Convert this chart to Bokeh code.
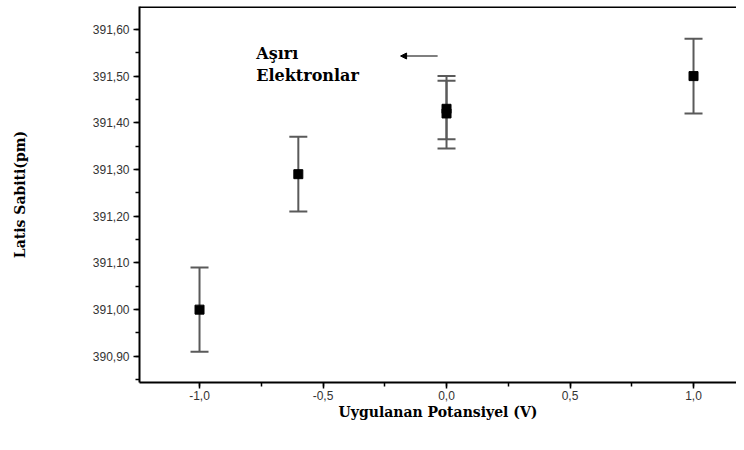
from bokeh.plotting import figure
from bokeh.models import (ColumnDataSource, Whisker, TeeHead, SingleIntervalTicker,
                          CustomJSTickFormatter, Span, Arrow, NormalHead, Label, Range1d)
from bokeh.embed import file_html
from bokeh.resources import INLINE

# data
potential = [-1.0, -0.6, 0.0, 0.0, 1.0]
lattice = [391.00, 391.29, 391.42, 391.43, 391.50]
err_up = [0.09, 0.08, 0.07, 0.07, 0.08]
err_dn = [0.09, 0.08, 0.075, 0.065, 0.08]

x_ticks_interval = 0.5
y_ticks_interval = 0.1
x_label = "Uygulanan Potansiyel (V)"
y_label = "Latis Sabiti(pm)"
note_lines = ["Aşırı", "Elektronlar"]

x_lo, x_hi = -1.243, 1.174
y_lo, y_hi = 390.844, 391.649

src = ColumnDataSource(dict(
    x=potential, y=lattice,
    upper=[v + e for v, e in zip(lattice, err_up)],
    lower=[v - e for v, e in zip(lattice, err_dn)],
))

p = figure(width=736, height=442, output_backend="svg", toolbar_location=None,
           x_range=Range1d(x_lo, x_hi), y_range=Range1d(y_lo, y_hi),
           min_border_left=139, min_border_right=0, min_border_top=6, min_border_bottom=60)
p.outline_line_color = None
p.grid.grid_line_color = None
p.background_fill_color = "white"

p.xaxis.ticker = SingleIntervalTicker(interval=x_ticks_interval, num_minor_ticks=2)
p.yaxis.ticker = SingleIntervalTicker(interval=y_ticks_interval, num_minor_ticks=2)
p.xaxis.formatter = CustomJSTickFormatter(code="return tick.toFixed(1).replace('.', ',');")
p.yaxis.formatter = CustomJSTickFormatter(code="return tick.toFixed(2).replace('.', ',');")

for ax in (p.xaxis[0], p.yaxis[0]):
    ax.axis_line_color = "black"
    ax.axis_line_width = 2
    ax.major_tick_line_color = "black"
    ax.major_tick_line_width = 1.5
    ax.minor_tick_line_color = "black"
    ax.minor_tick_line_width = 1.5
    ax.major_tick_out = 6
    ax.major_tick_in = 0
    ax.minor_tick_out = 4
    ax.minor_tick_in = 0
    ax.major_label_text_font = "Liberation Sans"
    ax.major_label_text_font_size = "12px"
    ax.major_label_text_color = "#333333"
    ax.axis_label_text_font = "DejaVu Serif"
    ax.axis_label_text_font_style = "bold"
    ax.axis_label_text_font_size = "14px"
    ax.axis_label_text_color = "black"

p.xaxis.axis_label = x_label
p.yaxis.axis_label = y_label
p.xaxis.major_label_standoff = 2
p.xaxis.axis_label_standoff = 1
p.yaxis.major_label_standoff = 4
p.yaxis.axis_label_standoff = 62

# top border line
p.add_layout(Span(location=y_hi, dimension="width", line_color="black", line_width=3))

# error bars
p.add_layout(Whisker(source=src, base="x", upper="upper", lower="lower",
                     line_color="#5a5a5a", line_width=2,
                     upper_head=TeeHead(size=18, line_color="#5a5a5a", line_width=2),
                     lower_head=TeeHead(size=18, line_color="#5a5a5a", line_width=2)))

p.scatter("x", "y", source=src, marker="square", size=9, color="black")

# annotation
p.add_layout(Label(x=-0.77, y=391.527, text=note_lines[0], text_font="DejaVu Serif",
                   text_font_style="bold", text_font_size="16px", text_color="black"))
p.add_layout(Label(x=-0.77, y=391.48, text=note_lines[1], text_font="DejaVu Serif",
                   text_font_style="bold", text_font_size="16px", text_color="black"))
p.add_layout(Arrow(x_start=-0.036, y_start=391.543, x_end=-0.186, y_end=391.543,
                   line_color="black", line_width=1.2,
                   end=NormalHead(size=6, fill_color="black", line_color="black")))

open("out.html", "w").write(file_html(p, INLINE))
